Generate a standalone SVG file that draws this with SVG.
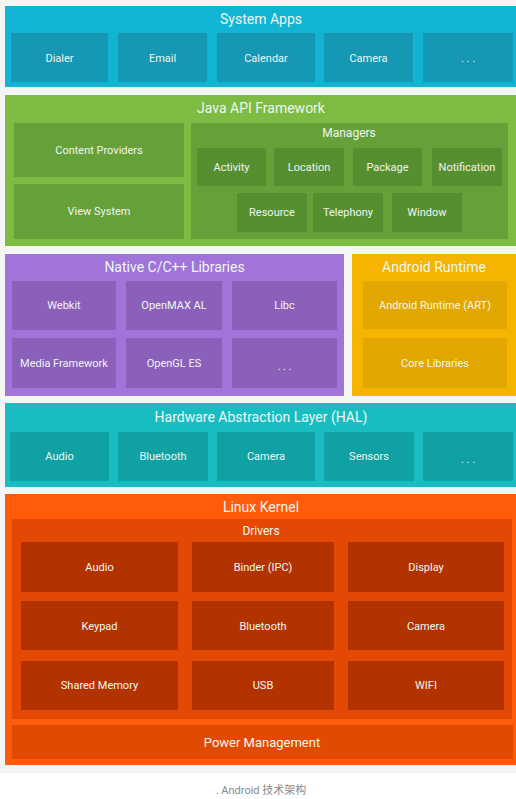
<svg xmlns="http://www.w3.org/2000/svg" width="516" height="799" viewBox="0 0 516 799">
<style>
text{font-family:Roboto,"Liberation Sans",sans-serif;fill:#eef6f2;text-anchor:middle;dominant-baseline:central}
.t{font-size:14px}
.s{font-size:11px}
.m{font-size:12px}
.cap{font-family:Roboto,"Noto Sans CJK SC",sans-serif;font-size:11px;fill:#8a8a8a}
</style>
<rect width="516" height="773" fill="#f4f5f5"/>
<rect y="773" width="516" height="26" fill="#ffffff"/>

<g id="system-apps">
<rect x="5" y="6" width="511" height="81" fill="#12b4d4"/>
<text class="t" x="261" y="19">System Apps</text>
<g fill="#1697b3">
<rect x="11" y="33" width="97" height="49"/>
<rect x="118" y="33" width="89" height="49"/>
<rect x="217" y="33" width="98" height="49"/>
<rect x="324" y="33" width="89" height="49"/>
<rect x="423" y="33" width="90" height="49"/>
</g>
<text class="s" x="59.5" y="58">Dialer</text>
<text class="s" x="162.5" y="58">Email</text>
<text class="s" x="266" y="58">Calendar</text>
<text class="s" x="368.5" y="58">Camera</text>
<text class="s" x="468" y="58">. . .</text>
</g>

<g id="java-api">
<rect x="5" y="95" width="511" height="151" fill="#7dbb43"/>
<text class="t" x="261" y="108">Java API Framework</text>
<g fill="#65a038">
<rect x="14" y="123" width="170" height="54"/>
<rect x="14" y="184" width="170" height="55"/>
<rect x="191" y="123" width="317" height="116"/>
</g>
<text class="s" x="99" y="150">Content Providers</text>
<text class="s" x="99" y="211.5">View System</text>
<text class="m" x="349" y="133">Managers</text>
<g fill="#558f2f">
<rect x="197" y="148" width="69" height="38"/>
<rect x="274" y="148" width="70" height="38"/>
<rect x="353" y="148" width="69" height="38"/>
<rect x="432" y="148" width="70" height="38"/>
<rect x="237" y="193" width="70" height="39"/>
<rect x="313" y="193" width="70" height="39"/>
<rect x="392" y="193" width="70" height="39"/>
</g>
<text class="s" x="231.5" y="167">Activity</text>
<text class="s" x="309" y="167">Location</text>
<text class="s" x="387.5" y="167">Package</text>
<text class="s" x="467" y="167">Notification</text>
<text class="s" x="272" y="212.5">Resource</text>
<text class="s" x="348" y="212.5">Telephony</text>
<text class="s" x="427" y="212.5">Window</text>
</g>

<g id="native-libs">
<rect x="5" y="254" width="339" height="142" fill="#a074d9"/>
<text class="t" x="174.5" y="267">Native C/C++ Libraries</text>
<g fill="#8a60bb">
<rect x="12" y="281" width="104" height="49"/>
<rect x="126" y="281" width="96" height="49"/>
<rect x="232" y="281" width="105" height="49"/>
<rect x="12" y="338" width="104" height="50"/>
<rect x="126" y="338" width="96" height="50"/>
<rect x="232" y="338" width="105" height="50"/>
</g>
<text class="s" x="64" y="305.5">Webkit</text>
<text class="s" x="174" y="305.5">OpenMAX AL</text>
<text class="s" x="284.5" y="305.5">Libc</text>
<text class="s" x="64" y="363">Media Framework</text>
<text class="s" x="174" y="363">OpenGL ES</text>
<text class="s" x="284.5" y="366">. . .</text>
</g>

<g id="android-runtime">
<rect x="352" y="254" width="164" height="142" fill="#f4b400"/>
<text class="t" x="434" y="267">Android Runtime</text>
<g fill="#e2a700">
<rect x="363" y="281" width="144" height="48"/>
<rect x="363" y="338" width="144" height="50"/>
</g>
<text class="s" x="435" y="305">Android Runtime (ART)</text>
<text class="s" x="435" y="363">Core Libraries</text>
</g>

<g id="hal">
<rect x="5" y="403" width="511" height="84" fill="#19bcc0"/>
<text class="t" x="261" y="417">Hardware Abstraction Layer (HAL)</text>
<g fill="#10a1a4">
<rect x="10" y="432" width="99" height="49"/>
<rect x="118" y="432" width="90" height="49"/>
<rect x="217" y="432" width="98" height="49"/>
<rect x="324" y="432" width="90" height="49"/>
<rect x="423" y="432" width="90" height="49"/>
</g>
<text class="s" x="59.5" y="456.5">Audio</text>
<text class="s" x="163" y="456.5">Bluetooth</text>
<text class="s" x="266" y="456.5">Camera</text>
<text class="s" x="369" y="456.5">Sensors</text>
<text class="s" x="468" y="459">. . .</text>
</g>

<g id="linux-kernel">
<rect x="5" y="494" width="511" height="271" fill="#ff5b0b"/>
<text class="t" x="261" y="507">Linux Kernel</text>
<rect x="12" y="519" width="500" height="200" fill="#e44805"/>
<text class="m" x="261" y="531">Drivers</text>
<g fill="#b33300">
<rect x="21" y="542" width="157" height="50"/>
<rect x="192" y="542" width="142" height="50"/>
<rect x="348" y="542" width="156" height="50"/>
<rect x="21" y="601" width="157" height="49"/>
<rect x="192" y="601" width="142" height="49"/>
<rect x="348" y="601" width="156" height="49"/>
<rect x="21" y="661" width="157" height="49"/>
<rect x="192" y="661" width="142" height="49"/>
<rect x="348" y="661" width="156" height="49"/>
</g>
<text class="s" x="99.5" y="567">Audio</text>
<text class="s" x="263" y="567">Binder (IPC)</text>
<text class="s" x="426" y="567">Display</text>
<text class="s" x="99.5" y="626">Keypad</text>
<text class="s" x="263" y="626">Bluetooth</text>
<text class="s" x="426" y="626">Camera</text>
<text class="s" x="99.5" y="685.5">Shared Memory</text>
<text class="s" x="263" y="685.5">USB</text>
<text class="s" x="426" y="685.5">WIFI</text>
<rect x="12" y="725" width="501" height="34" fill="#e04a03"/>
<text class="t" x="262" y="742" style="font-size:13px">Power Management</text>
</g>

<g id="connectors"></g>

<text class="cap" x="261" y="790">. Android 技术架构</text>
</svg>
